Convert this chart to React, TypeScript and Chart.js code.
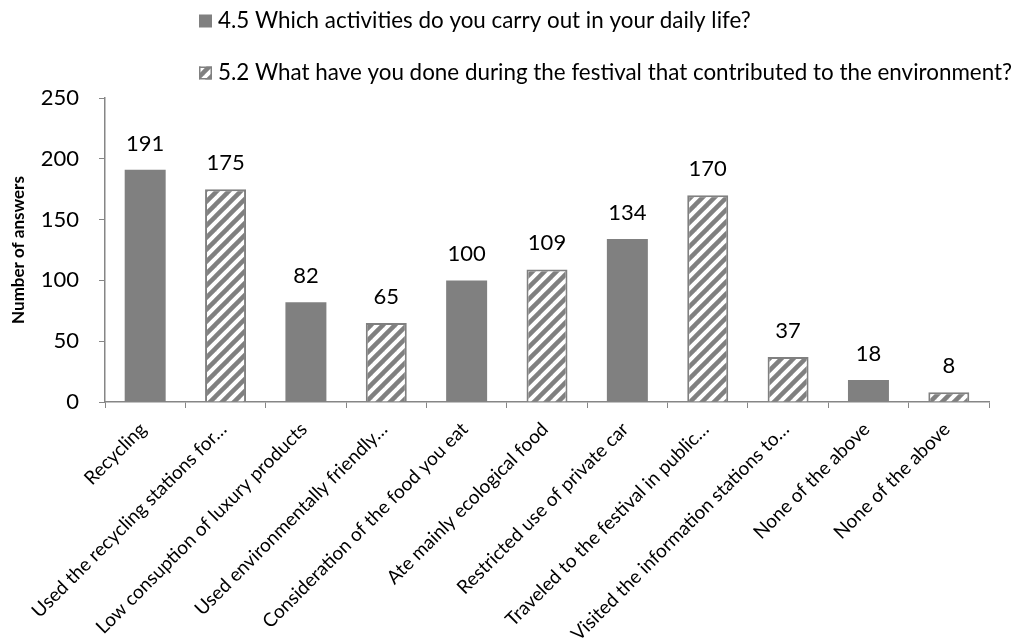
import React, { useEffect, useRef } from 'react';
import { Chart, registerables } from 'chart.js';

Chart.register(...registerables);

const categories = [
  'Recycling',
  'Used the recycling stations for…',
  'Low consuption of luxury products',
  'Used environmentally friendly…',
  'Consideration of the food you eat',
  'Ate mainly ecological food',
  'Restricted use of private car',
  'Traveled to the festival in public…',
  'Visited the information stations to…',
  'None of the above',
  'None of the above',
];

const dailyLifeValues = [191, null, 82, null, 100, null, 134, null, null, 18, null];
const festivalValues = [null, 175, null, 65, null, 109, null, 170, 37, null, 8];

const seriesNames = [
  '4.5 Which activities do you carry out in your daily life?',
  '5.2 What have you done during the festival that contributed to the environment?',
];

const yMin = 0;
const yMax = 250;
const yStep = 50;
const yAxisTitle = 'Number of answers';

const FONT = 'Lato, "Open Sans", sans-serif';
const GRAY = '#808080';
const AXIS = '#868686';

function makeHatch(): CanvasPattern | string {
  const size = 12;
  const c = document.createElement('canvas');
  c.width = size;
  c.height = size;
  const g = c.getContext('2d');
  if (!g) return GRAY;
  g.fillStyle = '#ffffff';
  g.fillRect(0, 0, size, size);
  g.strokeStyle = GRAY;
  g.lineWidth = 4.5;
  for (const k of [-1, 0, 1]) {
    const x0 = k * size;
    g.beginPath();
    g.moveTo(x0 - 2, size + 2);
    g.lineTo(x0 + size + 2, -2);
    g.stroke();
  }
  const p = g.createPattern(c, 'repeat');
  return p || GRAY;
}

export default function App() {
  const ref = useRef<HTMLCanvasElement | null>(null);

  useEffect(() => {
    const canvas = ref.current;
    if (!canvas) return;
    const hatch = makeHatch();

    const valueLabels = {
      id: 'valueLabels',
      afterDatasetsDraw(chart: any) {
        const ctx = chart.ctx;
        ctx.save();
        ctx.font = `22px ${FONT}`;
        ctx.fillStyle = '#000';
        ctx.textAlign = 'center';
        ctx.textBaseline = 'alphabetic';
        chart.data.datasets.forEach((ds: any, di: number) => {
          const meta = chart.getDatasetMeta(di);
          meta.data.forEach((el: any, i: number) => {
            const v = ds.data[i];
            if (v === null || v === undefined) return;
            ctx.fillText(String(v), el.x, el.y - 19);
          });
        });
        ctx.restore();
      },
    };

    const customLegend = {
      id: 'customLegend',
      afterDraw(chart: any) {
        const ctx = chart.ctx;
        ctx.save();
        const sw = 13;
        const x = 199;
        const rows = [21, 73];
        rows.forEach((cy, i) => {
          if (i === 0) {
            ctx.fillStyle = GRAY;
            ctx.fillRect(x, cy - sw / 2, sw, sw);
          } else {
            ctx.fillStyle = hatch;
            ctx.fillRect(x, cy - sw / 2, sw, sw);
            ctx.strokeStyle = GRAY;
            ctx.lineWidth = 1.5;
            ctx.strokeRect(x + 0.75, cy - sw / 2 + 0.75, sw - 1.5, sw - 1.5);
          }
          ctx.fillStyle = '#000';
          ctx.font = `22.4px ${FONT}`;
          ctx.textAlign = 'left';
          ctx.textBaseline = 'middle';
          ctx.fillText(seriesNames[i], x + 19, cy);
        });
        ctx.restore();
      },
    };

    const chart = new Chart(canvas, {
      type: 'bar',
      data: {
        labels: categories,
        datasets: [
          {
            label: seriesNames[0],
            data: dailyLifeValues,
            backgroundColor: GRAY,
            borderWidth: 0,
            grouped: false,
            barPercentage: 0.51,
            categoryPercentage: 1,
          } as any,
          {
            label: seriesNames[1],
            data: festivalValues,
            backgroundColor: hatch,
            borderColor: GRAY,
            borderWidth: 2,
            grouped: false,
            barPercentage: 0.51,
            categoryPercentage: 1,
          } as any,
        ],
      },
      options: {
        responsive: false,
        animation: false,
        devicePixelRatio: 1,
        layout: { padding: { top: 98, right: 27, left: 0, bottom: 0 } },
        plugins: {
          legend: { display: false },
          tooltip: { enabled: false },
          title: { display: false },
        },
        scales: {
          x: {
            type: 'category',
            grid: {
              display: true,
              drawOnChartArea: false,
              drawTicks: true,
              tickLength: 6,
              color: AXIS,
              offset: true,
            },
            border: { color: AXIS, width: 1.5 },
            ticks: {
              autoSkip: false,
              maxRotation: 45,
              minRotation: 45,
              color: '#000',
              padding: 10,
              labelOffset: -2,
              font: { family: FONT, size: 19 },
            },
            afterFit(scale: any) {
              scale.height = 237;
            },
          },
          y: {
            min: yMin,
            max: yMax,
            grid: {
              display: true,
              drawOnChartArea: false,
              drawTicks: true,
              tickLength: 6,
              color: AXIS,
            },
            border: { color: AXIS, width: 1.5 },
            ticks: {
              stepSize: yStep,
              color: '#000',
              padding: 20,
              font: { family: FONT, size: 22 },
            },
            title: {
              display: true,
              text: yAxisTitle,
              color: '#000',
              font: { family: FONT, size: 17, weight: 'bold' },
              padding: { top: 8, bottom: 4 },
            },
            afterFit(scale: any) {
              scale.width = 105;
            },
          },
        },
      },
      plugins: [valueLabels, customLegend],
    });

    return () => chart.destroy();
  }, []);

  return (
    <div style={{ position: 'absolute', left: 0, top: 0, width: 1016, height: 639, background: '#fff' }}>
      <canvas ref={ref} width={1016} height={639} />
    </div>
  );
}
